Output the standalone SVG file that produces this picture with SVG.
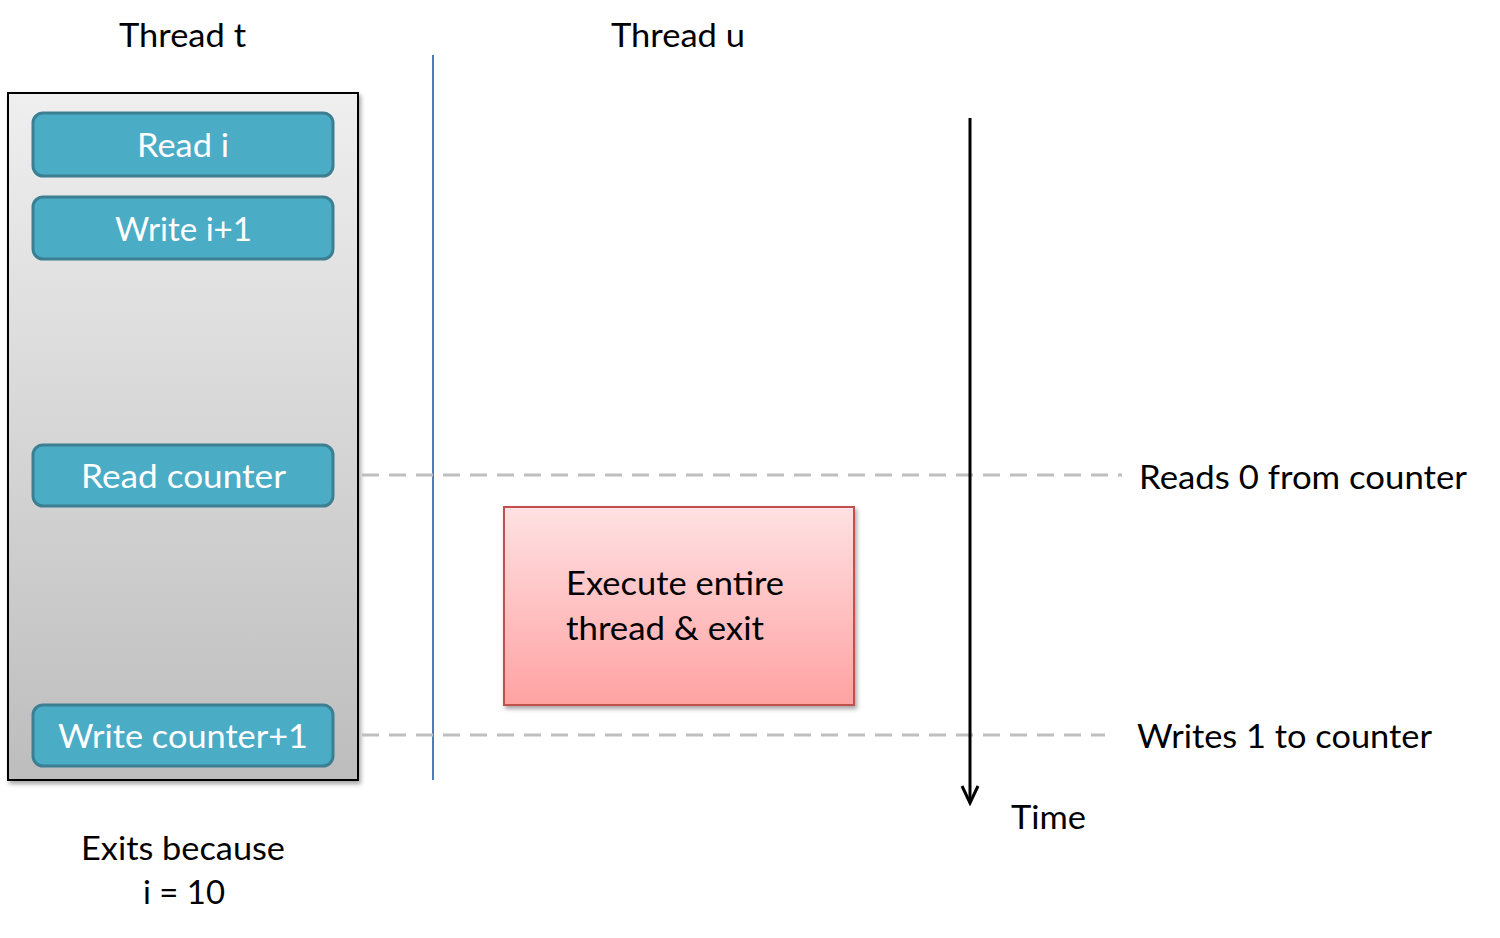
<svg xmlns="http://www.w3.org/2000/svg" width="1500" height="938" viewBox="0 0 1500 938">
<style>
text{font-family:Lato,"Open Sans","Liberation Sans",sans-serif;font-size:32px;fill:#000}
.w{fill:#fff}
.step{fill:#4bacc6;stroke:#3c7f92;stroke-width:3}
.dash{stroke:#bfbfbf;stroke-width:3;stroke-dasharray:17 10;fill:none}
</style>
<defs>
<linearGradient id="gGray" x1="0" y1="0" x2="0" y2="1"><stop offset="0" stop-color="#efefef"/><stop offset="1" stop-color="#bdbdbd"/></linearGradient>
<linearGradient id="gPink" x1="0" y1="0" x2="0" y2="1"><stop offset="0" stop-color="#ffe1e3"/><stop offset="1" stop-color="#ffa2a2"/></linearGradient>
<filter id="sh" x="-10%" y="-10%" width="120%" height="120%"><feDropShadow dx="2" dy="3" stdDeviation="2" flood-color="#000" flood-opacity="0.35"/></filter>
<marker id="arr" markerWidth="22" markerHeight="22" refX="19" refY="10" orient="auto" markerUnits="userSpaceOnUse" viewBox="0 0 22 20"><path d="M2,2 L19,10 L2,18" fill="none" stroke="#000" stroke-width="3"/></marker>
</defs>
<g id="labels">
<text x="119" y="47" textLength="127" lengthAdjust="spacingAndGlyphs">Thread t</text>
<text x="611" y="47" textLength="134" lengthAdjust="spacingAndGlyphs">Thread u</text>
</g>
<g id="threadT">
<rect x="8" y="93" width="350" height="687" fill="url(#gGray)" stroke="#000" stroke-width="2" filter="url(#sh)"/>
</g>
<g id="connectors">
<line x1="433" y1="55" x2="433" y2="780" stroke="#4a7ebb" stroke-width="2"/>
<line class="dash" x1="362" y1="475" x2="1122" y2="475"/>
<line class="dash" x1="362" y1="735" x2="1105" y2="735"/>
<line x1="970" y1="118" x2="970" y2="803" stroke="#000" stroke-width="3" marker-end="url(#arr)"/>
</g>
<g id="readI"><rect class="step" x="33" y="113" width="300" height="63" rx="10"/><text class="w" x="137" y="157" textLength="92" lengthAdjust="spacingAndGlyphs">Read i</text></g>
<g id="writeI"><rect class="step" x="33" y="197" width="300" height="62" rx="10"/><text class="w" x="115" y="241" textLength="137" lengthAdjust="spacingAndGlyphs">Write i+1</text></g>
<g id="readCounter"><rect class="step" x="33" y="445" width="300" height="61" rx="10"/><text class="w" x="81" y="488" textLength="205" lengthAdjust="spacingAndGlyphs">Read counter</text></g>
<g id="writeCounter"><rect class="step" x="33" y="705" width="300" height="61" rx="10"/><text class="w" x="58" y="748" textLength="250" lengthAdjust="spacingAndGlyphs">Write counter+1</text></g>
<g id="threadU">
<rect x="504" y="507" width="350" height="198" fill="url(#gPink)" stroke="#c0504d" stroke-width="2" filter="url(#sh)"/>
<text x="566" y="595" textLength="218" lengthAdjust="spacingAndGlyphs">Execute entire</text>
<text x="566" y="640" textLength="198" lengthAdjust="spacingAndGlyphs">thread &amp; exit</text>
</g>
<g id="notes">
<text x="1139" y="489" textLength="328" lengthAdjust="spacingAndGlyphs">Reads 0 from counter</text>
<text x="1137" y="748" textLength="295" lengthAdjust="spacingAndGlyphs">Writes 1 to counter</text>
<text x="1011" y="829" textLength="75" lengthAdjust="spacingAndGlyphs">Time</text>
<text x="81" y="860" textLength="204" lengthAdjust="spacingAndGlyphs">Exits because</text>
<text x="143" y="904" textLength="82" lengthAdjust="spacingAndGlyphs">i = 10</text>
</g>
</svg>
